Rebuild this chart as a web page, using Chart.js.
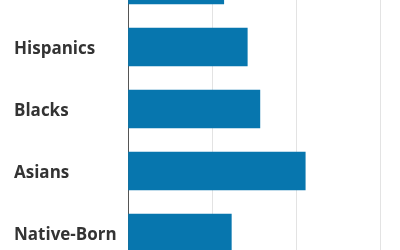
<!DOCTYPE html>
<html lang="en">
<head>
<meta charset="UTF-8">
<title>Bar chart</title>
<script src="https://cdn.jsdelivr.net/npm/chart.js@4.4.0/dist/chart.umd.min.js"></script>
<style>
  html, body { margin: 0; padding: 0; background: #fff; overflow: hidden; }
  #wrap { position: absolute; left: 0; top: -46px; width: 400px; height: 310px; }
</style>
</head>
<body>
<div id="wrap"><canvas id="chart" width="400" height="310"></canvas></div>
<script>
const groups = ['All Immigrants', 'Hispanics', 'Blacks', 'Asians', 'Native-Born'];
const shares = [11.4, 14.2, 15.7, 21.1, 12.3];
const gridTicks = [0, 10, 20, 30];

const ctx = document.getElementById('chart').getContext('2d');
new Chart(ctx, {
  type: 'bar',
  data: {
    labels: groups,
    datasets: [{
      data: shares,
      backgroundColor: '#0776ae',
      barThickness: 38
    }]
  },
  options: {
    indexAxis: 'y',
    responsive: false,
    animation: false,
    layout: { padding: { left: 14, right: 0, top: 0, bottom: 0 } },
    plugins: { legend: { display: false }, tooltip: { enabled: false } },
    scales: {
      x: {
        min: 0,
        max: 32.38,
        afterBuildTicks: s => { s.ticks = gridTicks.map(v => ({ value: v })); },
        afterFit: s => { s.height = 0; s.paddingLeft = 0; s.paddingRight = 0; },
        ticks: { display: false },
        grid: { color: '#e3e3e3', drawTicks: false },
        border: { display: false }
      },
      y: {
        afterFit: s => { s.width = 114; s.paddingTop = 0; s.paddingBottom = 0; },
        grid: { display: false },
        border: { display: true, color: '#555', width: 1 },
        ticks: {
          crossAlign: 'far',
          labelOffset: 2,
          color: '#333',
          font: { family: 'Open Sans', weight: 'bold', size: 17 }
        }
      }
    }
  }
});
</script>
</body>
</html>
